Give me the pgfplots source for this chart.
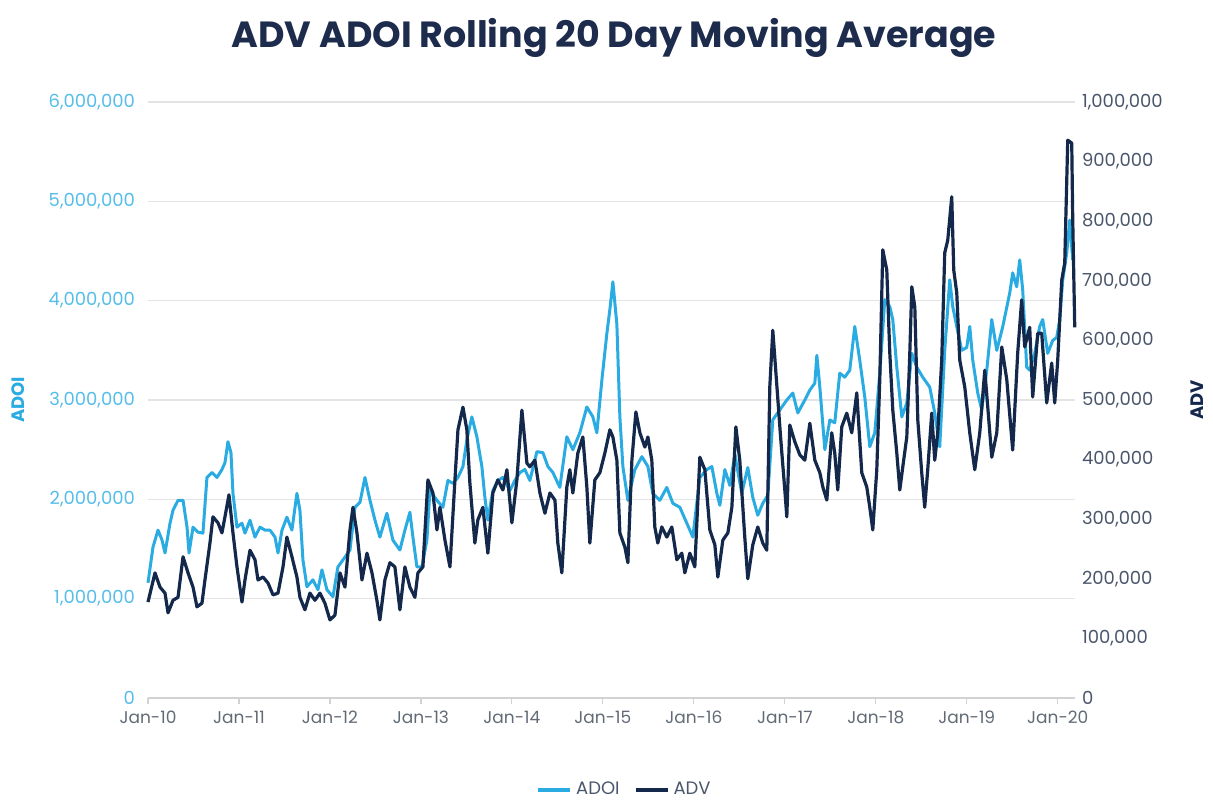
\documentclass[border=0pt]{standalone}
\usepackage{pgfplots}
\pgfplotsset{compat=1.18}
\usepackage{pgfplotstable}
\usepackage{fontspec}
\setmainfont{Poppins}
\definecolor{adoi}{HTML}{2AACE2}
\definecolor{adv}{HTML}{14284B}
\definecolor{titlec}{HTML}{1D2C4C}
\definecolor{gridc}{HTML}{E4E4E4}
\definecolor{leftlab}{HTML}{55BDEA}
\definecolor{rightlab}{HTML}{4A566B}
\definecolor{xlab}{HTML}{626A75}

\pgfplotstableread{
x y
2010.000 1160000
2010.055 1520000
2010.110 1690000
2010.154 1590000
2010.187 1460000
2010.242 1760000
2010.275 1890000
2010.330 1990000
2010.385 1990000
2010.429 1720000
2010.451 1460000
2010.495 1720000
2010.549 1670000
2010.604 1660000
2010.648 2220000
2010.703 2270000
2010.758 2220000
2010.813 2300000
2010.846 2370000
2010.879 2580000
2010.912 2470000
2010.934 2060000
2010.978 1720000
2011.033 1760000
2011.066 1660000
2011.121 1790000
2011.176 1620000
2011.231 1720000
2011.286 1690000
2011.341 1690000
2011.396 1620000
2011.429 1460000
2011.473 1690000
2011.527 1820000
2011.582 1690000
2011.637 2060000
2011.670 1890000
2011.703 1390000
2011.747 1120000
2011.813 1190000
2011.868 1090000
2011.912 1290000
2011.967 1090000
2012.033 1020000
2012.088 1320000
2012.143 1390000
2012.220 1490000
2012.275 1920000
2012.330 1970000
2012.385 2220000
2012.440 1990000
2012.495 1790000
2012.549 1620000
2012.626 1860000
2012.692 1590000
2012.769 1490000
2012.824 1690000
2012.879 1870000
2012.912 1620000
2012.956 1320000
2013.011 1320000
2013.066 1590000
2013.099 2090000
2013.176 1990000
2013.242 1920000
2013.297 2190000
2013.352 2160000
2013.407 2220000
2013.462 2330000
2013.505 2600000
2013.560 2830000
2013.615 2630000
2013.670 2330000
2013.703 2020000
2013.736 1790000
2013.791 2090000
2013.846 2190000
2013.901 2220000
2013.978 2090000
2014.033 2190000
2014.088 2270000
2014.143 2300000
2014.198 2190000
2014.275 2480000
2014.341 2470000
2014.396 2330000
2014.451 2270000
2014.527 2120000
2014.604 2630000
2014.670 2500000
2014.747 2670000
2014.824 2930000
2014.890 2830000
2014.934 2670000
2014.989 3200000
2015.044 3670000
2015.077 3910000
2015.110 4190000
2015.154 3760000
2015.187 2830000
2015.220 2330000
2015.275 1990000
2015.352 2300000
2015.429 2430000
2015.495 2330000
2015.549 2060000
2015.626 1990000
2015.703 2120000
2015.769 1960000
2015.846 1920000
2015.923 1760000
2015.989 1620000
2016.066 2220000
2016.143 2300000
2016.198 2330000
2016.253 2060000
2016.286 1940000
2016.341 2300000
2016.396 2140000
2016.451 2450000
2016.527 2060000
2016.593 2320000
2016.648 2020000
2016.703 1840000
2016.758 1960000
2016.813 2040000
2016.868 2800000
2016.945 2900000
2017.022 3000000
2017.088 3070000
2017.143 2870000
2017.220 3000000
2017.275 3100000
2017.330 3170000
2017.352 3450000
2017.385 3130000
2017.440 2500000
2017.495 2800000
2017.549 2770000
2017.604 3270000
2017.659 3230000
2017.714 3300000
2017.769 3740000
2017.824 3400000
2017.879 3030000
2017.934 2530000
2017.989 2670000
2018.044 3270000
2018.099 4010000
2018.154 3940000
2018.187 3810000
2018.231 3330000
2018.286 2830000
2018.341 2970000
2018.396 3470000
2018.451 3330000
2018.516 3230000
2018.593 3130000
2018.648 2870000
2018.703 2530000
2018.758 3500000
2018.813 4210000
2018.846 3940000
2018.890 3740000
2018.945 3500000
2019.000 3530000
2019.033 3740000
2019.066 3400000
2019.121 3070000
2019.165 2900000
2019.220 3300000
2019.275 3810000
2019.330 3500000
2019.396 3740000
2019.473 4080000
2019.505 4280000
2019.549 4140000
2019.582 4410000
2019.615 4110000
2019.659 3330000
2019.692 3300000
2019.747 3470000
2019.802 3740000
2019.835 3810000
2019.890 3470000
2019.945 3600000
2019.989 3630000
2020.022 3810000
2020.055 4210000
2020.099 4480000
2020.132 4810000
2020.165 4410000
}\adoidata

\pgfplotstableread{
x y
2010.000 161000
2010.077 210000
2010.132 186000
2010.187 176000
2010.220 143000
2010.275 164000
2010.330 169000
2010.385 237000
2010.440 210000
2010.495 186000
2010.538 153000
2010.593 159000
2010.626 198000
2010.681 260000
2010.714 304000
2010.769 294000
2010.813 277000
2010.846 304000
2010.890 341000
2010.934 277000
2010.978 220000
2011.033 161000
2011.066 198000
2011.121 248000
2011.176 232000
2011.209 198000
2011.264 203000
2011.319 193000
2011.374 173000
2011.429 176000
2011.484 220000
2011.527 270000
2011.582 237000
2011.637 203000
2011.670 169000
2011.725 148000
2011.780 176000
2011.835 164000
2011.890 176000
2011.945 159000
2012.000 131000
2012.055 139000
2012.110 210000
2012.165 186000
2012.220 282000
2012.253 320000
2012.297 277000
2012.352 198000
2012.407 243000
2012.462 210000
2012.516 164000
2012.549 131000
2012.604 198000
2012.659 227000
2012.714 220000
2012.769 148000
2012.824 220000
2012.879 186000
2012.934 169000
2012.967 210000
2013.022 220000
2013.077 366000
2013.132 344000
2013.176 282000
2013.209 320000
2013.264 265000
2013.319 220000
2013.374 366000
2013.407 450000
2013.462 488000
2013.505 450000
2013.538 361000
2013.593 260000
2013.626 299000
2013.681 320000
2013.736 243000
2013.791 344000
2013.846 366000
2013.901 349000
2013.945 383000
2014.000 294000
2014.055 366000
2014.110 483000
2014.165 394000
2014.198 388000
2014.253 399000
2014.308 344000
2014.363 310000
2014.418 344000
2014.473 332000
2014.505 260000
2014.549 210000
2014.604 354000
2014.637 383000
2014.670 344000
2014.725 411000
2014.780 438000
2014.824 354000
2014.857 260000
2014.912 366000
2014.967 378000
2015.022 411000
2015.077 450000
2015.110 438000
2015.154 399000
2015.187 277000
2015.242 253000
2015.275 227000
2015.319 399000
2015.363 480000
2015.407 445000
2015.462 421000
2015.495 438000
2015.538 399000
2015.571 287000
2015.604 260000
2015.648 287000
2015.703 270000
2015.758 287000
2015.813 232000
2015.868 243000
2015.901 210000
2015.956 243000
2016.011 220000
2016.066 404000
2016.121 383000
2016.176 282000
2016.231 257000
2016.264 203000
2016.319 265000
2016.374 277000
2016.418 320000
2016.462 455000
2016.505 399000
2016.560 270000
2016.593 200000
2016.648 257000
2016.703 287000
2016.758 260000
2016.802 248000
2016.835 522000
2016.868 617000
2016.912 525000
2016.956 433000
2017.000 349000
2017.022 304000
2017.055 458000
2017.110 430000
2017.165 408000
2017.220 399000
2017.275 461000
2017.330 399000
2017.385 378000
2017.418 354000
2017.462 332000
2017.516 445000
2017.549 411000
2017.582 349000
2017.626 455000
2017.681 478000
2017.736 445000
2017.791 512000
2017.846 378000
2017.901 354000
2017.934 320000
2017.967 282000
2018.011 383000
2018.044 534000
2018.077 752000
2018.121 718000
2018.154 579000
2018.187 483000
2018.231 411000
2018.264 349000
2018.297 388000
2018.341 438000
2018.374 579000
2018.396 690000
2018.429 656000
2018.462 466000
2018.505 378000
2018.538 320000
2018.571 383000
2018.615 478000
2018.648 399000
2018.681 445000
2018.725 567000
2018.758 747000
2018.791 768000
2018.835 841000
2018.857 718000
2018.890 680000
2018.923 567000
2018.978 522000
2019.033 445000
2019.088 383000
2019.143 445000
2019.198 550000
2019.231 488000
2019.275 404000
2019.330 445000
2019.385 589000
2019.440 534000
2019.505 416000
2019.560 579000
2019.604 668000
2019.637 589000
2019.692 622000
2019.725 505000
2019.780 612000
2019.824 612000
2019.879 495000
2019.934 562000
2019.967 495000
2020.000 567000
2020.044 701000
2020.077 730000
2020.110 936000
2020.154 931000
2020.165 802000
2020.187 622000
}\advdata

\begin{document}
\begin{tikzpicture}
\useasboundingbox (-74pt,-51pt) rectangle (532.5pt,349pt);
\begin{axis}[
  at={(0,0)}, anchor=south west,
  scale only axis, width=463.5pt, height=298pt,
  xmin=2010, xmax=2020.19,
  ymin=0, ymax=6000000,
  axis y line*=left, axis x line*=bottom,
  y axis line style={draw=none},
  x axis line style={draw=gray!35, line width=0.7pt, -},
  xtick={2010,2011,...,2020},
  xticklabels={Jan-10,Jan-11,Jan-12,Jan-13,Jan-14,Jan-15,Jan-16,Jan-17,Jan-18,Jan-19,Jan-20},
  xtick style={draw=gray!35, line width=0.6pt},
  tick align=outside, major tick length=3pt,
  xticklabel style={font=\fontsize{8.5}{10}\selectfont, text=xlab},
  ytick={0,1000000,2000000,3000000,4000000,5000000,6000000},
  yticklabels={0,{1,000,000},{2,000,000},{3,000,000},{4,000,000},{5,000,000},{6,000,000}},
  ytick style={draw=none},
  ymajorgrids, grid style={gridc, line width=0.7pt},
  scaled y ticks=false,
  yticklabel style={font=\fontsize{9}{10}\selectfont, text=leftlab},
  ylabel={ADOI},
  ylabel style={at={(axis description cs:-0.140,0.5)}, anchor=center,
    font=\bfseries\fontsize{9}{10}\selectfont, text=adoi},
  clip=false,
]
\addplot[adoi, line width=1.5pt, line join=round] table[x=x,y=y] {\adoidata};
\end{axis}
\begin{axis}[
  at={(0,0)}, anchor=south west,
  scale only axis, width=463.5pt, height=298pt,
  xmin=2010, xmax=2020.19,
  ymin=0, ymax=1000000,
  axis y line*=right, axis x line=none,
  y axis line style={draw=none},
  ytick={0,100000,200000,300000,400000,500000,600000,700000,800000,900000,1000000},
  yticklabels={0,{100,000},{200,000},{300,000},{400,000},{500,000},{600,000},{700,000},{800,000},{900,000},{1,000,000}},
  ytick style={draw=none},
  scaled y ticks=false,
  yticklabel style={font=\fontsize{9}{10}\selectfont, text=rightlab},
  ylabel={ADV},
  ylabel style={at={(axis description cs:1.132,0.5)}, anchor=center,
    font=\bfseries\fontsize{9}{10}\selectfont, text=adv},
  legend style={at={(0.515,-0.154)}, anchor=center, draw=none, fill=none,
    legend columns=2, font=\fontsize{9}{10}\selectfont, text=rightlab,
    /tikz/every even column/.append style={column sep=5pt}},
  legend image code/.code={\draw[#1, line width=2pt] (0pt,0pt) -- (16pt,0pt);},
  clip=false,
]
\addlegendimage{adoi}
\addlegendentry{ADOI}
\addplot[adv, line width=1.6pt, line join=round] table[x=x,y=y] {\advdata};
\addlegendentry{ADV}
\end{axis}
\node[anchor=base, font=\bfseries\fontsize{18.2}{21}\selectfont, text=titlec] at (233pt,325pt) {ADV ADOI Rolling 20 Day Moving Average};
\end{tikzpicture}
\end{document}
